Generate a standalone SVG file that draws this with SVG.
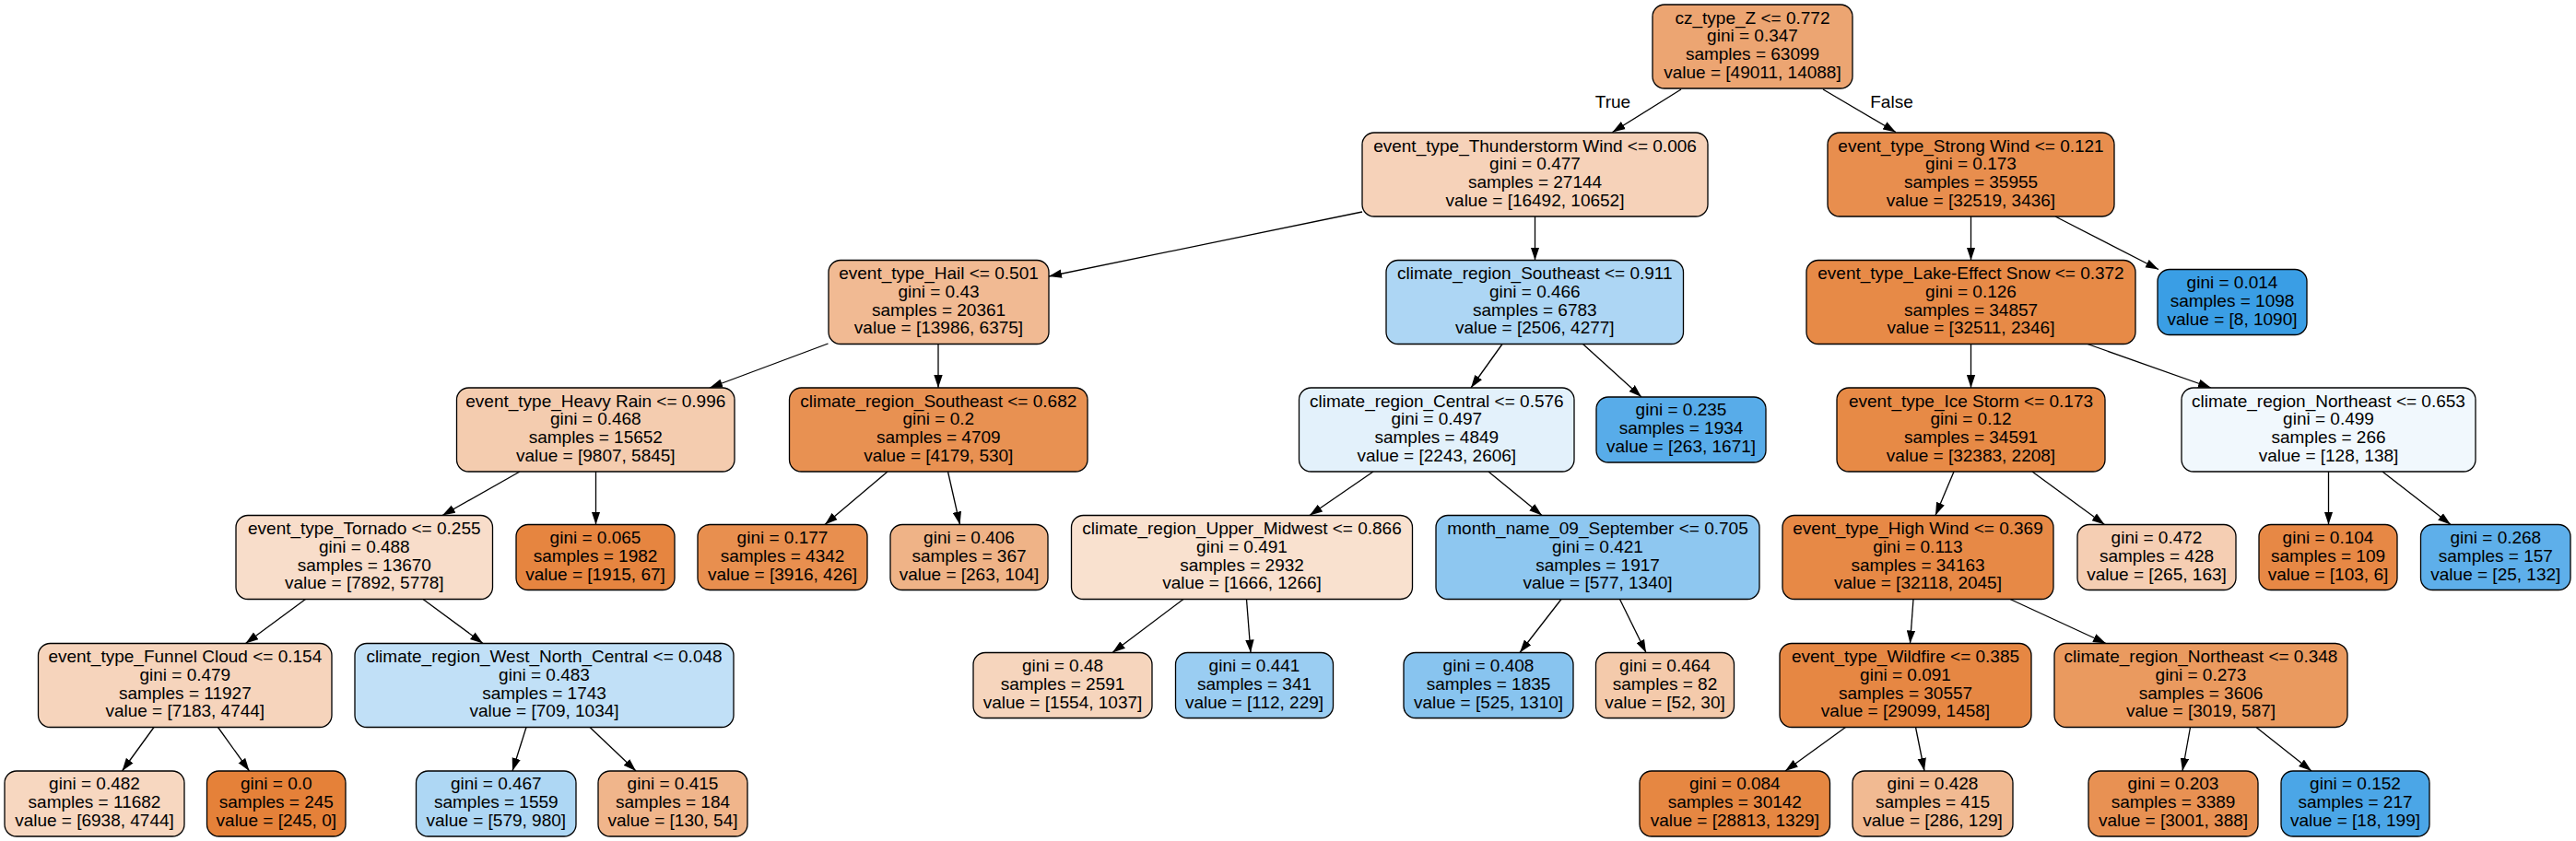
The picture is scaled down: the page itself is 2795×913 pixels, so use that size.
<svg xmlns="http://www.w3.org/2000/svg" width="2795" height="913" viewBox="0 0 2795 913">
<style>
.bg{fill:#ffffff}
.n rect{stroke:#000;stroke-width:1.3}
text{font-family:"Liberation Sans",Arial,Helvetica,sans-serif;font-size:19px;text-anchor:middle;fill:#000}
.e line{stroke:#000;stroke-width:1.3;marker-end:url(#arr)}
</style>
<defs>
<marker id="arr" viewBox="0 0 14 10" refX="14" refY="5" markerWidth="14" markerHeight="10" markerUnits="userSpaceOnUse" orient="auto"><path d="M0,0.3 L14,5 L0,9.7 Z" fill="#000"/></marker>
</defs>
<rect class="bg" x="0" y="0" width="2795" height="913"/>
<g id="connectors" class="e">
<line x1="1824" y1="97" x2="1749.5" y2="143.5"/>
<line x1="1978" y1="97" x2="2057" y2="143.5"/>
<line x1="1478" y1="230" x2="1138" y2="300"/>
<line x1="1665.5" y1="235" x2="1665.5" y2="282.5"/>
<line x1="2138.5" y1="235" x2="2138.5" y2="282.5"/>
<line x1="2230" y1="235" x2="2342" y2="292.5"/>
<line x1="898.5" y1="373" x2="770" y2="421"/>
<line x1="1018" y1="373.5" x2="1018" y2="421"/>
<line x1="1630" y1="373.5" x2="1596" y2="421"/>
<line x1="1717.5" y1="373.5" x2="1781" y2="431"/>
<line x1="2138.5" y1="373.5" x2="2138.5" y2="421"/>
<line x1="2265" y1="373.5" x2="2399" y2="421"/>
<line x1="564" y1="512" x2="480" y2="559.5"/>
<line x1="646.5" y1="512" x2="646.5" y2="569.5"/>
<line x1="963" y1="512" x2="895" y2="569.5"/>
<line x1="1028.5" y1="512" x2="1041.5" y2="569.5"/>
<line x1="1490" y1="512" x2="1421" y2="559.5"/>
<line x1="1615" y1="512" x2="1673" y2="559.5"/>
<line x1="2120" y1="512" x2="2100" y2="559.5"/>
<line x1="2205" y1="512" x2="2283.5" y2="569.5"/>
<line x1="2526.5" y1="512" x2="2526.5" y2="569.5"/>
<line x1="2585" y1="512" x2="2659" y2="569.5"/>
<line x1="331.5" y1="650.5" x2="266.5" y2="698.5"/>
<line x1="459" y1="650.5" x2="524" y2="698.5"/>
<line x1="1284" y1="650.5" x2="1207" y2="708.5"/>
<line x1="1352.5" y1="650.5" x2="1357" y2="708.5"/>
<line x1="1694" y1="650.5" x2="1649" y2="708.5"/>
<line x1="1757.5" y1="650.5" x2="1786" y2="708.5"/>
<line x1="2076" y1="650.5" x2="2072.5" y2="698.5"/>
<line x1="2181" y1="650.5" x2="2285" y2="698.5"/>
<line x1="167" y1="789.5" x2="132.5" y2="837"/>
<line x1="236.5" y1="789.5" x2="270.5" y2="837"/>
<line x1="571" y1="789.5" x2="556" y2="837"/>
<line x1="640" y1="789.5" x2="690" y2="837"/>
<line x1="2002.5" y1="789.5" x2="1937" y2="837"/>
<line x1="2078.5" y1="789.5" x2="2088" y2="837"/>
<line x1="2376.5" y1="789.5" x2="2368" y2="837"/>
<line x1="2448" y1="789.5" x2="2508" y2="837"/>
</g>
<g id="edge-labels">
<text x="1750" y="117">True</text>
<text x="2052.5" y="117">False</text>
</g>
<g id="n0" class="n"><rect x="1793" y="5" width="217" height="91" rx="13" fill="#eca572"/>
<text x="1901.5" y="25.5">cz_type_Z &lt;= 0.772</text><text x="1901.5" y="45.3">gini = 0.347</text><text x="1901.5" y="65.1">samples = 63099</text><text x="1901.5" y="84.9">value = [49011, 14088]</text></g>
<g id="n1" class="n"><rect x="1478" y="144" width="375" height="91" rx="13" fill="#f6d2b9"/>
<text x="1665.5" y="164.5">event_type_Thunderstorm Wind &lt;= 0.006</text><text x="1665.5" y="184.3">gini = 0.477</text><text x="1665.5" y="204.1">samples = 27144</text><text x="1665.5" y="223.9">value = [16492, 10652]</text></g>
<g id="n2" class="n"><rect x="899" y="282.5" width="239" height="91" rx="13" fill="#f1ba93"/>
<text x="1018.5" y="303">event_type_Hail &lt;= 0.501</text><text x="1018.5" y="322.8">gini = 0.43</text><text x="1018.5" y="342.6">samples = 20361</text><text x="1018.5" y="362.4">value = [13986, 6375]</text></g>
<g id="n3" class="n"><rect x="495.5" y="421" width="301.5" height="91" rx="13" fill="#f4ccaf"/>
<text x="646.3" y="441.5">event_type_Heavy Rain &lt;= 0.996</text><text x="646.3" y="461.3">gini = 0.468</text><text x="646.3" y="481.1">samples = 15652</text><text x="646.3" y="500.9">value = [9807, 5845]</text></g>
<g id="n4" class="n"><rect x="256" y="559.5" width="278.5" height="91" rx="13" fill="#f8ddca"/>
<text x="395.3" y="580">event_type_Tornado &lt;= 0.255</text><text x="395.3" y="599.8">gini = 0.488</text><text x="395.3" y="619.6">samples = 13670</text><text x="395.3" y="639.4">value = [7892, 5778]</text></g>
<g id="n5" class="n"><rect x="41.5" y="698.5" width="318.5" height="91" rx="13" fill="#f6d4bc"/>
<text x="200.8" y="719">event_type_Funnel Cloud &lt;= 0.154</text><text x="200.8" y="738.8">gini = 0.479</text><text x="200.8" y="758.6">samples = 11927</text><text x="200.8" y="778.4">value = [7183, 4744]</text></g>
<g id="n6" class="n"><rect x="5" y="837" width="195" height="71" rx="13" fill="#f7d7c0"/>
<text x="102.5" y="857.4">gini = 0.482</text><text x="102.5" y="877.2">samples = 11682</text><text x="102.5" y="897">value = [6938, 4744]</text></g>
<g id="n7" class="n"><rect x="224.5" y="837" width="150.5" height="71" rx="13" fill="#e58139"/>
<text x="299.8" y="857.4">gini = 0.0</text><text x="299.8" y="877.2">samples = 245</text><text x="299.8" y="897">value = [245, 0]</text></g>
<g id="n8" class="n"><rect x="385" y="698.5" width="411" height="91" rx="13" fill="#c1e0f7"/>
<text x="590.5" y="719">climate_region_West_North_Central &lt;= 0.048</text><text x="590.5" y="738.8">gini = 0.483</text><text x="590.5" y="758.6">samples = 1743</text><text x="590.5" y="778.4">value = [709, 1034]</text></g>
<g id="n9" class="n"><rect x="451.5" y="837" width="173.5" height="71" rx="13" fill="#aed7f4"/>
<text x="538.3" y="857.4">gini = 0.467</text><text x="538.3" y="877.2">samples = 1559</text><text x="538.3" y="897">value = [579, 980]</text></g>
<g id="n10" class="n"><rect x="649" y="837" width="162" height="71" rx="13" fill="#f0b58b"/>
<text x="730" y="857.4">gini = 0.415</text><text x="730" y="877.2">samples = 184</text><text x="730" y="897">value = [130, 54]</text></g>
<g id="n11" class="n"><rect x="560" y="569.5" width="172" height="71" rx="13" fill="#e68540"/>
<text x="646" y="589.9">gini = 0.065</text><text x="646" y="609.7">samples = 1982</text><text x="646" y="629.5">value = [1915, 67]</text></g>
<g id="n12" class="n"><rect x="856.5" y="421" width="323.5" height="91" rx="13" fill="#e89152"/>
<text x="1018.3" y="441.5">climate_region_Southeast &lt;= 0.682</text><text x="1018.3" y="461.3">gini = 0.2</text><text x="1018.3" y="481.1">samples = 4709</text><text x="1018.3" y="500.9">value = [4179, 530]</text></g>
<g id="n13" class="n"><rect x="757" y="569.5" width="184" height="71" rx="13" fill="#e88f4f"/>
<text x="849" y="589.9">gini = 0.177</text><text x="849" y="609.7">samples = 4342</text><text x="849" y="629.5">value = [3916, 426]</text></g>
<g id="n14" class="n"><rect x="966" y="569.5" width="171" height="71" rx="13" fill="#efb387"/>
<text x="1051.5" y="589.9">gini = 0.406</text><text x="1051.5" y="609.7">samples = 367</text><text x="1051.5" y="629.5">value = [263, 104]</text></g>
<g id="n15" class="n"><rect x="1504" y="282.5" width="322.5" height="91" rx="13" fill="#add6f4"/>
<text x="1665.3" y="303">climate_region_Southeast &lt;= 0.911</text><text x="1665.3" y="322.8">gini = 0.466</text><text x="1665.3" y="342.6">samples = 6783</text><text x="1665.3" y="362.4">value = [2506, 4277]</text></g>
<g id="n16" class="n"><rect x="1409.5" y="421" width="298.5" height="91" rx="13" fill="#e3f1fb"/>
<text x="1558.8" y="441.5">climate_region_Central &lt;= 0.576</text><text x="1558.8" y="461.3">gini = 0.497</text><text x="1558.8" y="481.1">samples = 4849</text><text x="1558.8" y="500.9">value = [2243, 2606]</text></g>
<g id="n17" class="n"><rect x="1162.5" y="559.5" width="370" height="91" rx="13" fill="#f9e1cf"/>
<text x="1347.5" y="580">climate_region_Upper_Midwest &lt;= 0.866</text><text x="1347.5" y="599.8">gini = 0.491</text><text x="1347.5" y="619.6">samples = 2932</text><text x="1347.5" y="639.4">value = [1666, 1266]</text></g>
<g id="n18" class="n"><rect x="1056" y="708.5" width="194" height="71" rx="13" fill="#f6d5bd"/>
<text x="1153" y="728.9">gini = 0.48</text><text x="1153" y="748.7">samples = 2591</text><text x="1153" y="768.5">value = [1554, 1037]</text></g>
<g id="n19" class="n"><rect x="1275.5" y="708.5" width="171" height="71" rx="13" fill="#9acdf2"/>
<text x="1361" y="728.9">gini = 0.441</text><text x="1361" y="748.7">samples = 341</text><text x="1361" y="768.5">value = [112, 229]</text></g>
<g id="n20" class="n"><rect x="1558" y="559.5" width="351" height="91" rx="13" fill="#8ec7f0"/>
<text x="1733.5" y="580">month_name_09_September &lt;= 0.705</text><text x="1733.5" y="599.8">gini = 0.421</text><text x="1733.5" y="619.6">samples = 1917</text><text x="1733.5" y="639.4">value = [577, 1340]</text></g>
<g id="n21" class="n"><rect x="1523" y="708.5" width="184" height="71" rx="13" fill="#88c4ef"/>
<text x="1615" y="728.9">gini = 0.408</text><text x="1615" y="748.7">samples = 1835</text><text x="1615" y="768.5">value = [525, 1310]</text></g>
<g id="n22" class="n"><rect x="1731.5" y="708.5" width="150" height="71" rx="13" fill="#f4caab"/>
<text x="1806.5" y="728.9">gini = 0.464</text><text x="1806.5" y="748.7">samples = 82</text><text x="1806.5" y="768.5">value = [52, 30]</text></g>
<g id="n23" class="n"><rect x="1732" y="431" width="184" height="71" rx="13" fill="#58ace9"/>
<text x="1824" y="451.4">gini = 0.235</text><text x="1824" y="471.2">samples = 1934</text><text x="1824" y="491">value = [263, 1671]</text></g>
<g id="n24" class="n"><rect x="1983" y="144" width="311" height="91" rx="13" fill="#e88e4e"/>
<text x="2138.5" y="164.5">event_type_Strong Wind &lt;= 0.121</text><text x="2138.5" y="184.3">gini = 0.173</text><text x="2138.5" y="204.1">samples = 35955</text><text x="2138.5" y="223.9">value = [32519, 3436]</text></g>
<g id="n25" class="n"><rect x="1960" y="282.5" width="357" height="91" rx="13" fill="#e78a47"/>
<text x="2138.5" y="303">event_type_Lake-Effect Snow &lt;= 0.372</text><text x="2138.5" y="322.8">gini = 0.126</text><text x="2138.5" y="342.6">samples = 34857</text><text x="2138.5" y="362.4">value = [32511, 2346]</text></g>
<g id="n26" class="n"><rect x="1993" y="421" width="291" height="91" rx="13" fill="#e78a46"/>
<text x="2138.5" y="441.5">event_type_Ice Storm &lt;= 0.173</text><text x="2138.5" y="461.3">gini = 0.12</text><text x="2138.5" y="481.1">samples = 34591</text><text x="2138.5" y="500.9">value = [32383, 2208]</text></g>
<g id="n27" class="n"><rect x="1934" y="559.5" width="294" height="91" rx="13" fill="#e78946"/>
<text x="2081" y="580">event_type_High Wind &lt;= 0.369</text><text x="2081" y="599.8">gini = 0.113</text><text x="2081" y="619.6">samples = 34163</text><text x="2081" y="639.4">value = [32118, 2045]</text></g>
<g id="n28" class="n"><rect x="1931" y="698.5" width="273" height="91" rx="13" fill="#e68743"/>
<text x="2067.5" y="719">event_type_Wildfire &lt;= 0.385</text><text x="2067.5" y="738.8">gini = 0.091</text><text x="2067.5" y="758.6">samples = 30557</text><text x="2067.5" y="778.4">value = [29099, 1458]</text></g>
<g id="n29" class="n"><rect x="1779" y="837" width="206.5" height="71" rx="13" fill="#e68742"/>
<text x="1882.3" y="857.4">gini = 0.084</text><text x="1882.3" y="877.2">samples = 30142</text><text x="1882.3" y="897">value = [28813, 1329]</text></g>
<g id="n30" class="n"><rect x="2010" y="837" width="174" height="71" rx="13" fill="#f1ba92"/>
<text x="2097" y="857.4">gini = 0.428</text><text x="2097" y="877.2">samples = 415</text><text x="2097" y="897">value = [286, 129]</text></g>
<g id="n31" class="n"><rect x="2229" y="698.5" width="318" height="91" rx="13" fill="#ea9a5f"/>
<text x="2388" y="719">climate_region_Northeast &lt;= 0.348</text><text x="2388" y="738.8">gini = 0.273</text><text x="2388" y="758.6">samples = 3606</text><text x="2388" y="778.4">value = [3019, 587]</text></g>
<g id="n32" class="n"><rect x="2266" y="837" width="184" height="71" rx="13" fill="#e89153"/>
<text x="2358" y="857.4">gini = 0.203</text><text x="2358" y="877.2">samples = 3389</text><text x="2358" y="897">value = [3001, 388]</text></g>
<g id="n33" class="n"><rect x="2475" y="837" width="161" height="71" rx="13" fill="#4ba6e7"/>
<text x="2555.5" y="857.4">gini = 0.152</text><text x="2555.5" y="877.2">samples = 217</text><text x="2555.5" y="897">value = [18, 199]</text></g>
<g id="n34" class="n"><rect x="2254" y="569.5" width="172" height="71" rx="13" fill="#f5ceb3"/>
<text x="2340" y="589.9">gini = 0.472</text><text x="2340" y="609.7">samples = 428</text><text x="2340" y="629.5">value = [265, 163]</text></g>
<g id="n35" class="n"><rect x="2367" y="421" width="319" height="91" rx="13" fill="#f1f8fd"/>
<text x="2526.5" y="441.5">climate_region_Northeast &lt;= 0.653</text><text x="2526.5" y="461.3">gini = 0.499</text><text x="2526.5" y="481.1">samples = 266</text><text x="2526.5" y="500.9">value = [128, 138]</text></g>
<g id="n36" class="n"><rect x="2451" y="569.5" width="150" height="71" rx="13" fill="#e78845"/>
<text x="2526" y="589.9">gini = 0.104</text><text x="2526" y="609.7">samples = 109</text><text x="2526" y="629.5">value = [103, 6]</text></g>
<g id="n37" class="n"><rect x="2626.5" y="569.5" width="162.5" height="71" rx="13" fill="#5eafea"/>
<text x="2707.8" y="589.9">gini = 0.268</text><text x="2707.8" y="609.7">samples = 157</text><text x="2707.8" y="629.5">value = [25, 132]</text></g>
<g id="n38" class="n"><rect x="2341" y="292.5" width="162" height="71" rx="13" fill="#3a9ee5"/>
<text x="2422" y="312.9">gini = 0.014</text><text x="2422" y="332.7">samples = 1098</text><text x="2422" y="352.5">value = [8, 1090]</text></g>
</svg>
